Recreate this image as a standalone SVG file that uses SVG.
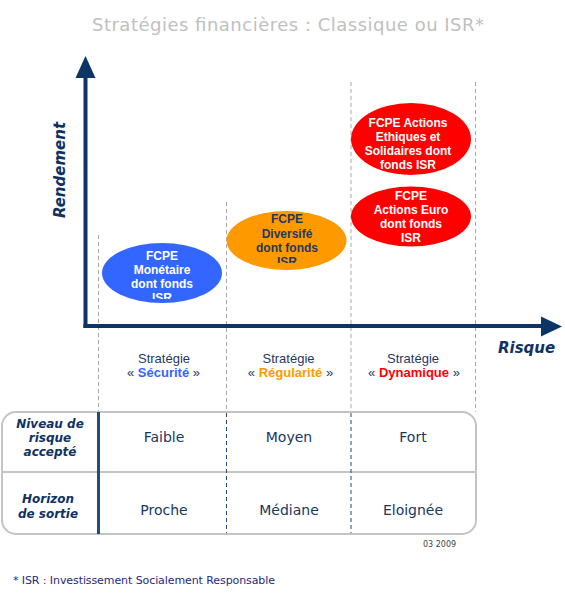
<svg xmlns="http://www.w3.org/2000/svg" width="565" height="610" viewBox="0 0 565 610">
<style>
.ttl{font-family:"DejaVu Sans",Verdana,sans-serif;font-size:18px;fill:#c0c0c0}
.ax{stroke:#0c3466;stroke-width:4;fill:none}
.axh{fill:#0c3466;stroke:none}
.grid{stroke:#a8a8a8;stroke-width:1;stroke-dasharray:4 3;fill:none}
.gridb{stroke:#1f4e79;stroke-width:1;stroke-dasharray:4 3;fill:none}
.axlbl{font-family:"DejaVu Sans",Verdana,sans-serif;font-weight:bold;font-style:italic;font-size:15px;fill:#0f3263}
.nt{font-family:"Liberation Sans",Arial,sans-serif;font-weight:bold;font-size:12px;text-anchor:middle}
.st{font-family:"Liberation Sans",Arial,sans-serif;font-size:13px;fill:#1f3864;text-anchor:middle}
.cell{font-family:"DejaVu Sans",Verdana,sans-serif;font-size:14px;fill:#17375e;text-anchor:middle}
.rowh{font-family:"DejaVu Sans",Verdana,sans-serif;font-weight:bold;font-style:italic;font-size:12px;fill:#0f3263;text-anchor:middle}
</style>
<defs>
<clipPath id="cpBlue"><rect x="100" y="240" width="125" height="59"/></clipPath>
<clipPath id="cpOrange"><rect x="224" y="208" width="125" height="55"/></clipPath>
</defs>
<rect width="565" height="610" fill="#ffffff"/>
<text class="ttl" x="92" y="31" textLength="392" lengthAdjust="spacing">Stratégies financières : Classique ou ISR*</text>

<g id="grid">
<line class="grid" x1="98.5" y1="235" x2="98.5" y2="412"/>
<line class="grid" x1="226.5" y1="202" x2="226.5" y2="412"/>
<line class="grid" x1="351" y1="82" x2="351" y2="412"/>
<line class="grid" x1="475.5" y1="82" x2="475.5" y2="412"/>
</g>

<g id="axes">
<line class="ax" x1="85.5" y1="76" x2="85.5" y2="328"/>
<line class="ax" x1="83.5" y1="326" x2="543" y2="326"/>
<polygon class="axh" points="85.5,56 75.5,78 95.5,78"/>
<polygon class="axh" points="562,326.5 541,316.5 541,336.5"/>
<text class="axlbl" transform="translate(65,170) rotate(-90)" text-anchor="middle">Rendement</text>
<text class="axlbl" x="498" y="353">Risque</text>
</g>

<g id="node-monetaire">
<ellipse cx="162" cy="273" rx="60" ry="30" fill="#3366ff"/>
<g clip-path="url(#cpBlue)">
<text class="nt" fill="#ffffff" x="162" y="260">FCPE</text>
<text class="nt" fill="#ffffff" x="162" y="274">Monétaire</text>
<text class="nt" fill="#ffffff" x="162" y="288">dont fonds</text>
<text class="nt" fill="#ffffff" x="162" y="302">ISR</text>
</g>
</g>

<g id="node-diversifie">
<ellipse cx="286.5" cy="240.5" rx="60" ry="29.5" fill="#ff9900"/>
<g clip-path="url(#cpOrange)">
<text class="nt" fill="#1f3864" x="287" y="223">FCPE</text>
<text class="nt" fill="#1f3864" x="287" y="237.5">Diversifé</text>
<text class="nt" fill="#1f3864" x="287" y="251.5">dont fonds</text>
<text class="nt" fill="#1f3864" x="287" y="265.5">ISR</text>
</g>
</g>

<g id="node-ethiques">
<ellipse cx="411" cy="139" rx="60" ry="36" fill="#ff0000"/>
<text class="nt" fill="#ffffff" x="408" y="127">FCPE Actions</text>
<text class="nt" fill="#ffffff" x="408" y="141">Ethiques et</text>
<text class="nt" fill="#ffffff" x="408" y="155">Solidaires dont</text>
<text class="nt" fill="#ffffff" x="408" y="169">fonds ISR</text>
</g>

<g id="node-euro">
<ellipse cx="411" cy="216.5" rx="60" ry="30" fill="#ff0000"/>
<text class="nt" fill="#ffffff" x="411" y="200">FCPE</text>
<text class="nt" fill="#ffffff" x="411" y="214">Actions Euro</text>
<text class="nt" fill="#ffffff" x="411" y="228">dont fonds</text>
<text class="nt" fill="#ffffff" x="411" y="242">ISR</text>
</g>

<g id="strategies">
<text class="st" x="164" y="362.5">Stratégie</text>
<text class="st" x="163.5" y="377">« <tspan font-weight="bold" fill="#3366ff">Sécurité</tspan> »</text>
<text class="st" x="288.5" y="362.5">Stratégie</text>
<text class="st" x="290.5" y="377">« <tspan font-weight="bold" fill="#ff9900">Régularité</tspan> »</text>
<text class="st" x="413" y="362.5">Stratégie</text>
<text class="st" x="414" y="377">« <tspan font-weight="bold" fill="#ff0000">Dynamique</tspan> »</text>
</g>

<g id="table">
<rect x="2" y="412" width="474" height="122" rx="14" ry="14" fill="none" stroke="#c4c4c4" stroke-width="2"/>
<line x1="2" y1="472" x2="476" y2="472" stroke="#c4c4c4" stroke-width="2"/>
<line x1="98.5" y1="412" x2="98.5" y2="534" stroke="#1f4e79" stroke-width="3"/>
<line class="gridb" x1="226.5" y1="413" x2="226.5" y2="533"/>
<line class="gridb" x1="351" y1="413" x2="351" y2="533"/>
<text class="rowh" x="50" y="428">Niveau de</text>
<text class="rowh" x="50" y="442">risque</text>
<text class="rowh" x="50" y="456">accepté</text>
<text class="rowh" x="48" y="503">Horizon</text>
<text class="rowh" x="48" y="518">de sortie</text>
<text class="cell" x="164" y="442">Faible</text>
<text class="cell" x="289" y="442">Moyen</text>
<text class="cell" x="413" y="442">Fort</text>
<text class="cell" x="164" y="515">Proche</text>
<text class="cell" x="289" y="515">Médiane</text>
<text class="cell" x="413" y="515">Eloignée</text>
</g>

<text x="423" y="547" font-family="DejaVu Sans, Verdana, sans-serif" font-size="8" fill="#444444">03 2009</text>
<text x="13" y="584" font-family="DejaVu Sans, Verdana, sans-serif" font-size="11" fill="#1f2a7a" textLength="262" lengthAdjust="spacing">* ISR : Investissement Socialement Responsable</text>
</svg>
